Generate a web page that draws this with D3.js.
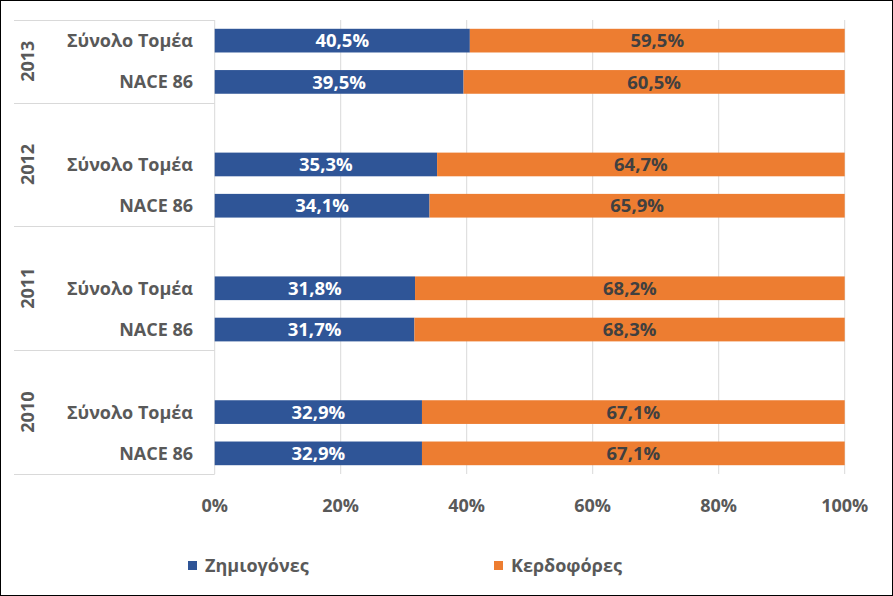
<!DOCTYPE html>
<html><head><meta charset="utf-8">
<script src="https://cdn.jsdelivr.net/npm/d3@7/dist/d3.min.js"></script>
<style>
body{margin:0;background:#fff;}
svg{display:block;font-family:"Open Sans",sans-serif;}
</style></head><body>
<svg id="c" width="893" height="596"></svg>
<script>
const years = ["2013","2012","2011","2010"];
const subCats = ["Σύνολο Τομέα","NACE 86"];
const lossMaking = [[40.5,39.5],[35.3,34.1],[31.8,31.7],[32.9,32.9]];
const profitable = [[59.5,60.5],[64.7,65.9],[68.2,68.3],[67.1,67.1]];
const seriesNames = ["Ζημιογόνες","Κερδοφόρες"];
const xTicks = [0,20,40,60,80,100];
const colors = ["#2F5597","#ED7D31"];

const svg = d3.select("#c");
svg.append("rect").attr("x",0.5).attr("y",0.5).attr("width",892).attr("height",595)
  .attr("fill","#fff").attr("stroke","#000").attr("stroke-width",1);

const rows = [];
years.forEach((y,gi)=>{
  if(gi>0) rows.push({key:y+"-blank",year:y,blank:true});
  subCats.forEach((s,si)=>rows.push({key:y+"-"+si,year:y,label:s,loss:lossMaking[gi][si],profit:profitable[gi][si]}));
});

const plotTop=20, plotBottom=474, x0=214.7, x1=844.7;
const x = d3.scaleLinear().domain([0,100]).range([x0,x1]);
const y = d3.scaleBand().domain(rows.map(r=>r.key)).range([plotTop,plotBottom]).paddingInner(0.426).paddingOuter(0.213);
const step = y.step();

svg.append("g").selectAll("line").data(xTicks.slice(1)).join("line")
  .attr("x1",d=>x(d)).attr("x2",d=>x(d)).attr("y1",plotTop).attr("y2",plotBottom)
  .attr("stroke","#d9d9d9").attr("stroke-width",1);

const groupBounds = [];
years.forEach(yr=>{
  const rs = rows.filter(r=>r.year===yr);
  const top = y(rs[0].key) - (step - y.bandwidth())/2;
  const bot = y(rs[rs.length-1].key) + y.bandwidth() + (step - y.bandwidth())/2;
  groupBounds.push({year:yr,top,bot});
});
const ax = svg.append("g").attr("stroke","#d9d9d9").attr("stroke-width",1);
ax.append("line").attr("x1",x0).attr("x2",x0).attr("y1",plotTop).attr("y2",plotBottom);
const hl = [plotTop, ...groupBounds.map(g=>g.bot)];
ax.selectAll("line.h").data(hl).join("line").attr("class","h")
  .attr("x1",14).attr("x2",x0).attr("y1",d=>Math.round(d)+0.5).attr("y2",d=>Math.round(d)+0.5);

const dataRows = rows.filter(r=>!r.blank);
svg.append("g").selectAll("rect").data(dataRows).join("rect")
  .attr("x",x(0)).attr("y",d=>y(d.key)).attr("width",d=>x(d.loss)-x(0)).attr("height",y.bandwidth())
  .attr("fill",colors[0]);
svg.append("g").selectAll("rect").data(dataRows).join("rect")
  .attr("x",d=>x(d.loss)).attr("y",d=>y(d.key)).attr("width",d=>x(100)-x(d.loss)).attr("height",y.bandwidth())
  .attr("fill",colors[1]);

const fmt = v => v.toFixed(1).replace(".",",")+"%";
const lblFont = "bold 18.5px 'Open Sans', sans-serif";
const catFont = "bold 18px 'Open Sans', sans-serif";
svg.append("g").selectAll("text").data(dataRows).join("text")
  .attr("x",d=>x(d.loss/2)).attr("y",d=>y(d.key)+y.bandwidth()/2).attr("dy","0.36em")
  .attr("text-anchor","middle").attr("fill","#fff").style("font",lblFont).text(d=>fmt(d.loss));
svg.append("g").selectAll("text").data(dataRows).join("text")
  .attr("x",d=>x(d.loss+d.profit/2)).attr("y",d=>y(d.key)+y.bandwidth()/2).attr("dy","0.36em")
  .attr("text-anchor","middle").attr("fill","#404040").style("font",lblFont).text(d=>fmt(d.profit));

svg.append("g").selectAll("text").data(dataRows).join("text")
  .attr("x",193).attr("y",d=>y(d.key)+y.bandwidth()/2).attr("dy","0.36em")
  .attr("text-anchor","end").attr("fill","#595959").style("font",catFont).text(d=>d.label);
svg.append("g").selectAll("text").data(groupBounds).join("text")
  .attr("transform",d=>`translate(28,${(d.top+d.bot)/2}) rotate(-90)`).attr("dy","0.36em")
  .attr("text-anchor","middle").attr("fill","#595959").style("font",catFont).text(d=>d.year);

svg.append("g").selectAll("text").data(xTicks).join("text")
  .attr("x",d=>x(d)).attr("y",506).attr("dy","0.36em").attr("text-anchor","middle")
  .attr("fill","#595959").style("font",catFont).text(d=>d+"%");

const leg = svg.append("g");
const legX = [188,494];
seriesNames.forEach((n,i)=>{
  leg.append("rect").attr("x",legX[i]).attr("y",561).attr("width",9).attr("height",9).attr("fill",colors[i]);
  leg.append("text").attr("x",legX[i]+17).attr("y",566).attr("dy","0.36em").attr("fill","#595959")
    .style("font",catFont).text(n);
});
</script>
</body></html>
